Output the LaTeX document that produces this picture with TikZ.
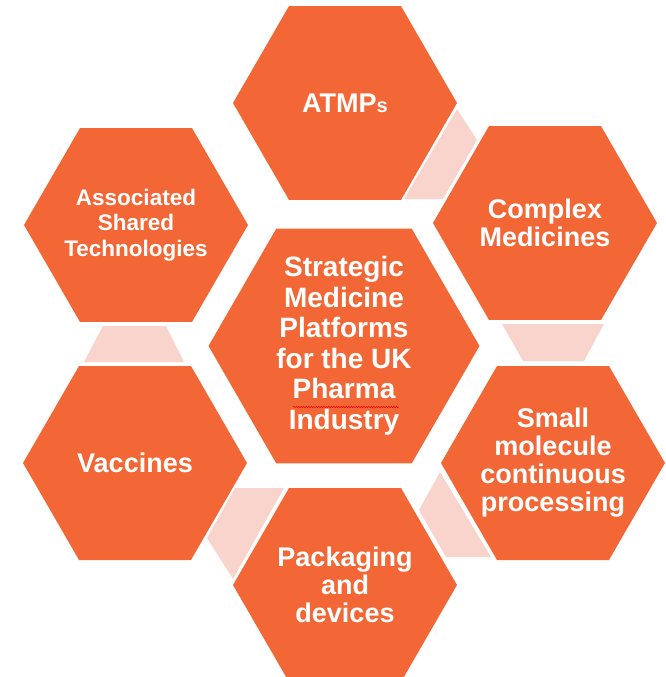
\documentclass[tikz,border=0pt]{standalone}
\usepackage{fontspec}
\setmainfont{Liberation Sans}
\usepackage{xcolor}
\usetikzlibrary{shapes.geometric,calc,decorations.pathmorphing}

\definecolor{hexorange}{RGB}{242,103,53}
\definecolor{linkpink}{RGB}{248,212,205}

\begin{document}
\begin{tikzpicture}[
  x=1pt, y=-1pt,
  hexbox/.style={regular polygon, regular polygon sides=6, minimum size=224pt, inner sep=0pt, fill=hexorange},
  bighex/.style={hexbox, minimum size=271pt},
  hextext/.style={text=white, align=center, inner sep=0pt, font=\bfseries\fontsize{27}{28}\selectfont},
  bigtext/.style={hextext, font=\bfseries\fontsize{28}{30.5}\selectfont},
  smalltext/.style={hextext, font=\bfseries\fontsize{22.5}{25.5}\selectfont},
  link/.style={fill=linkpink}
]
\useasboundingbox (0,0) rectangle (666,677);

\node[bighex, label={[bigtext]center:{Strategic\\Medicine\\Platforms\\for the UK\\Pharma\\Industry}}] (mid) at (344,346) {};
\node[hexbox, label={[hextext]center:{ATMP{\fontsize{20}{20}\selectfont s}}}] (atmp) at (345,103) {};
\node[hexbox, label={[hextext]center:{Complex\\Medicines}}] (complex) at (545,223) {};
\node[hexbox, label={[hextext]center:{Small\\molecule\\continuous\\processing}}] (small) at (553,463) {};
\node[hexbox, label={[hextext]center:{Packaging\\and\\devices}}] (pack) at (345,585) {};
\node[hexbox, label={[hextext]center:{Vaccines}}] (vacc) at (135,463) {};
\node[hexbox, label={[smalltext]center:{Associated\\Shared\\Technologies}}] (assoc) at (136,225) {};

% pale links between the outer hexagons
\fill[link] (457,109) -- (477,140) -- (443,199) -- (404,199) -- cycle;
\fill[link] (502,324) -- (604,324) -- (584,361) -- (523,361) -- cycle;
\fill[link] (440,472) -- (491,557) -- (446,557) -- (419,510) -- cycle;
\fill[link] (235,488) -- (284,488) -- (233,579) -- (207,538) -- cycle;
\fill[link] (103,326) -- (166,326) -- (184,362) -- (84,362) -- cycle;

% spell-check squiggle
\draw[red, line width=0.5pt, decorate, decoration={snake, amplitude=0.7pt, segment length=2.5pt}]
  ($(mid)+(-51,61)$) -- ($(mid)+(55,61)$);
\end{tikzpicture}
\end{document}
